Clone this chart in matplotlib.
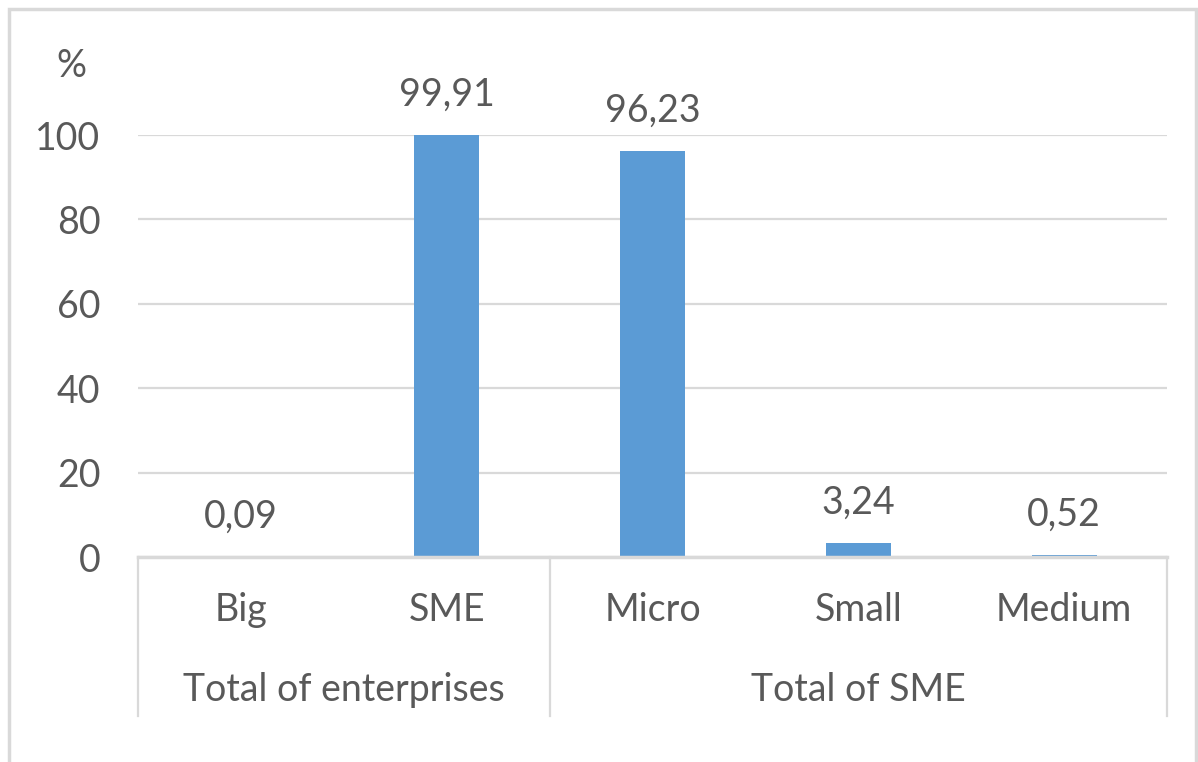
import matplotlib
matplotlib.use('Agg')
import matplotlib.pyplot as plt
from matplotlib.patches import Rectangle

# datos
categorias = ["Big", "SME", "Micro", "Small", "Medium"]
valores = [0.09, 99.91, 96.23, 3.24, 0.52]
etiquetas = ["0,09", "99,91", "96,23", "3,24", "0,52"]
grupos = ["Total of enterprises", "Total of SME"]
grupo_tam = [2, 3]
yticks = [0, 20, 40, 60, 80, 100]

gris = '#595959'
linea = '#d9d9d9'
plt.rcParams['font.family'] = ['Lato', 'DejaVu Sans']
fs = 27

fig = plt.figure(figsize=(11.98, 7.62), dpi=100)
ax = fig.add_axes([138 / 1198, 205 / 762, 1029 / 1198, 422 / 762])

x = list(range(len(categorias)))
ax.bar(x, valores, width=0.315, color='#5b9bd5', zorder=3)
ax.set_xlim(-0.5, len(categorias) - 0.5)
ax.set_ylim(0, 100)

# lineas de cuadricula
ax.set_yticks(yticks)
ax.yaxis.grid(True, color=linea, linewidth=1.6)
ax.set_axisbelow(True)
ax.tick_params(axis='y', length=0, pad=27, labelsize=fs, labelcolor=gris)
ax.set_xticks([])
for s in ['top', 'right', 'left']:
    ax.spines[s].set_visible(False)
ax.spines['bottom'].set_color(linea)
ax.spines['bottom'].set_linewidth(2.5)
ax.spines['bottom'].set_zorder(4)

# etiquetas de valores
for xi, v, t in zip(x, valores, etiquetas):
    ax.annotate(t, (xi, v), xytext=(0, 21), textcoords='offset points',
                ha='center', va='baseline', fontsize=fs, color=gris)

# eje de categorias en dos niveles
tr = ax.get_xaxis_transform()
bajo = -(716 - 557) / 422
pos = -0.5
ax.plot([pos, pos], [0, bajo], color=linea, lw=1.6, clip_on=False, transform=tr)
for g, n in zip(grupos, grupo_tam):
    ax.text(pos + n / 2, -(690 - 557) / 422, g, transform=tr, ha='center',
            va='center', fontsize=fs, color=gris)
    pos += n
    ax.plot([pos, pos], [0, bajo], color=linea, lw=1.6, clip_on=False, transform=tr)
for xi, c in zip(x, categorias):
    ax.text(xi, -(610 - 557) / 422, c, transform=tr, ha='center', va='center',
            fontsize=fs, color=gris)

fig.text(71 / 1198, 1 - 66 / 762, '%', ha='center', va='center', fontsize=fs, color=gris)

# borde exterior
fig.patches.append(Rectangle((9 / 1198, -0.05), 1187 / 1198, 1.05 - 9 / 762,
                             transform=fig.transFigure, fill=False,
                             edgecolor='#d9d9d9', linewidth=2.5))

fig.savefig('out.png', dpi=100)
